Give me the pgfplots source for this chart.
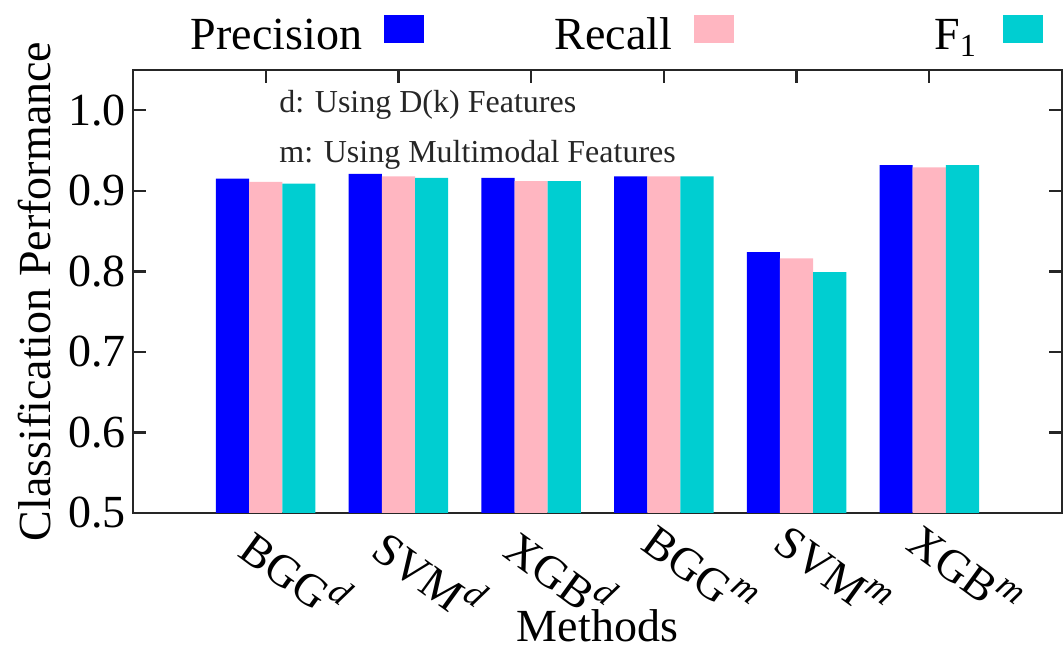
\documentclass[border=0pt]{standalone}
\usepackage{fontspec}
\setmainfont{Liberation Serif}
\usepackage{pgfplots}
\pgfplotsset{compat=1.18}

\definecolor{precblue}{RGB}{0,0,255}
\definecolor{recpink}{RGB}{255,182,193}
\definecolor{fcyan}{RGB}{0,206,209}
\newcommand{\bigfont}{\fontsize{23}{27}\selectfont}
\newcommand{\notefont}{\fontsize{16}{19}\selectfont}
% method name with an italic superscript tag
\newcommand{\meth}[2]{#1\raisebox{0.42em}{\fontsize{18}{20}\selectfont\itshape #2}}

\begin{document}
\begin{tikzpicture}
\begin{axis}[
  scale only axis,
  width=464.5pt, height=221.5pt,
  xmin=-1, xmax=6, ymin=0.5, ymax=1.05,
  ybar, bar width=0.25,
  xtick={0,1,2,3,4,5},
  xticklabels={\meth{BGG}{d}, \meth{SVM}{d}, \meth{XGB}{d},
               \meth{BGG}{m}, \meth{SVM}{m}, \meth{XGB}{m}},
  xtick pos=upper, xticklabel pos=lower,
  ytick={0.5,0.6,0.7,0.8,0.9,1.0},
  ytick pos=both, yticklabel pos=left,
  tick align=inside,
  major tick length=6.5pt,
  major tick style={line width=1.2pt, black!85},
  axis line style={line width=1.2pt, black!85},
  tick label style={font=\bigfont},
  yticklabel style={/pgf/number format/.cd, fixed, fixed zerofill, precision=1, assume math mode=true},
  xticklabel style={rotate=-36, anchor=north west, xshift=-3pt},
  xlabel={Methods},
  xlabel style={at={(axis description cs:0.5,0)}, anchor=base, yshift=-64.5pt, inner sep=0pt, font=\bigfont},
  ylabel={Classification Performance},
  ylabel style={at={(axis description cs:-0.0893,0.5)}, anchor=base, font=\bigfont},
  legend columns=3,
  legend plot pos=right,
  legend image code/.code={\fill[#1] (0pt,-3.5pt) rectangle (20pt,10.5pt);},
  legend style={draw=none, fill=none, at={(axis description cs:0,1)}, anchor=south west,
                font=\bigfont, column sep=11pt, inner sep=0pt, outer sep=0pt,
                nodes={inner sep=0pt}, xshift=1.5pt, yshift=8.5pt},
]
% Precision
\addplot[fill=precblue, draw=none, bar shift=-0.25] coordinates
  {(0,0.915) (1,0.921) (2,0.916) (3,0.918) (4,0.824) (5,0.932)};
\addlegendentry{\makebox[113pt][r]{Precision}}
% Recall
\addplot[fill=recpink, draw=none, bar shift=0] coordinates
  {(0,0.911) (1,0.918) (2,0.912) (3,0.918) (4,0.816) (5,0.929)};
\addlegendentry{\makebox[113pt][r]{Recall}}
% F1 score
\addplot[fill=fcyan, draw=none, bar shift=0.25] coordinates
  {(0,0.909) (1,0.916) (2,0.912) (3,0.918) (4,0.799) (5,0.932)};
\addlegendentry{\makebox[112.5pt][r]{F\textsubscript{1}\hspace{2pt}}}

\node[anchor=base west, font=\notefont, text=black!85, inner sep=0pt]
  at (axis cs:0.1,0.9975) {d: Using D(k) Features};
\node[anchor=base west, font=\notefont, text=black!85, inner sep=0pt]
  at (axis cs:0.1,0.935) {m: Using Multimodal Features};
\end{axis}
\pgfresetboundingbox
\useasboundingbox ([xshift=-66.5pt,yshift=-68.5pt]current axis.south west)
  rectangle ([xshift=0.5pt,yshift=35pt]current axis.north east);
\end{tikzpicture}
\end{document}
